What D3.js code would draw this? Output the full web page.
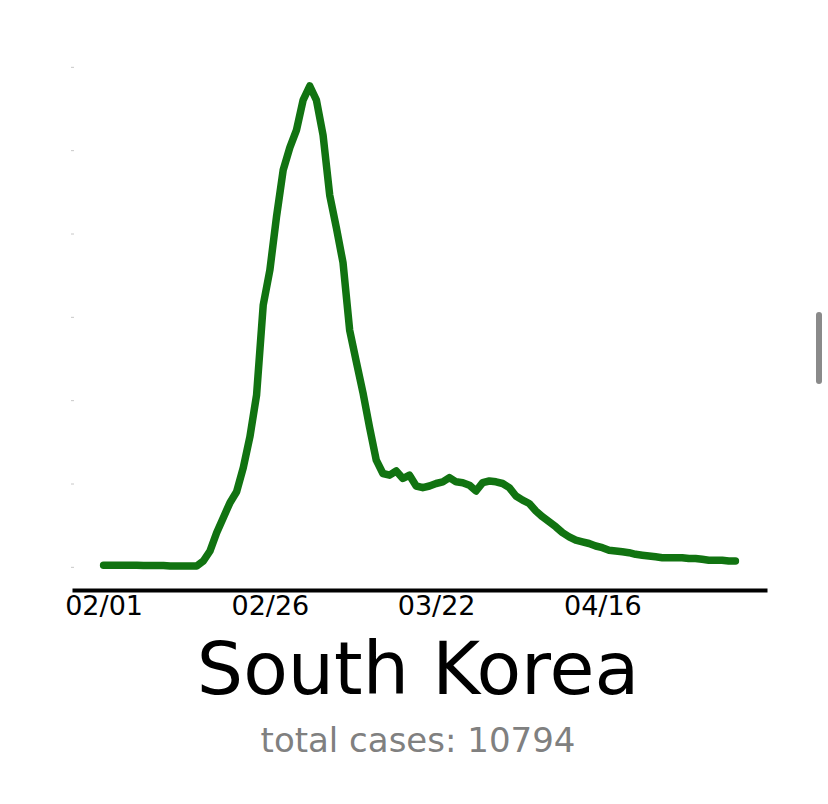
<!DOCTYPE html>
<html>
<head>
<meta charset="utf-8">
<script src="https://cdn.jsdelivr.net/npm/d3@7"></script>
<style>
  body { margin: 0; background: #fff; }
  svg { display: block; }
  text { font-family: "DejaVu Sans", sans-serif; }
</style>
</head>
<body>
<div class="chart"></div>
<script>
// daily new cases (smoothed), South Korea, 02/01 .. 05/06
var startDate = new Date(2020, 1, 1),
    cases = [2, 2, 2, 2, 2, 2, 1.5, 1.5, 1.5, 1.5, 1, 1, 1, 1, 1,
             7, 19, 41, 59, 77, 90, 119, 156, 206, 314, 356, 420, 476, 503, 524,
             560, 577, 560, 518, 446, 407, 365, 284, 246, 209, 167, 128, 112, 110, 115,
             106, 110, 97, 95, 97, 100, 102, 107, 102, 101, 98, 91, 101, 103, 102,
             100, 95, 85, 80, 76, 67, 60, 54, 48, 41, 36, 32, 30, 28, 25,
             23, 20, 19, 18, 17, 15, 14, 13, 12, 11, 11, 11, 11, 10, 10,
             9, 8, 8, 8, 7, 7],
    xTickDays = [0, 25, 50, 75],
    yTickValues = [0, 100, 200, 300, 400, 500, 600],
    country = "South Korea",
    totalCases = 10794;

var outerWidth = 828,
    outerHeight = 804,
    fmt = d3.timeFormat("%m/%d");

var data = cases.map(function(v, i) {
    return {day: i, date: d3.timeDay.offset(startDate, i), value: v};
});

// matplotlib style 5% margins
var dayExt = d3.extent(data, function(d) { return d.day; }),
    valExt = d3.extent(data, function(d) { return d.value; }),
    dPad = (dayExt[1] - dayExt[0]) * 0.05,
    vPad = (valExt[1] - valExt[0]) * 0.05;

var xScale = d3.scaleLinear().domain([dayExt[0] - dPad, dayExt[1] + dPad]).range([72, 767]),
    yScale = d3.scaleLinear().domain([valExt[0] - vPad, valExt[1] + vPad]).range([590, 62]);

var svg = d3.select(".chart").append("svg")
    .attr("width", outerWidth)
    .attr("height", outerHeight);

// faint y ticks, no labels
var yAxis = svg.append("g")
    .attr("transform", "translate(74,0)")
    .call(d3.axisLeft(yScale).tickValues(yTickValues).tickSize(3).tickFormat(""));
yAxis.select(".domain").remove();
yAxis.selectAll("line").attr("stroke", "#c8c8c8").attr("stroke-width", 1);

// x axis
var xAxis = svg.append("g")
    .attr("transform", "translate(0,590)")
    .call(d3.axisBottom(xScale)
        .tickValues(xTickDays)
        .tickSize(0)
        .tickPadding(6)
        .tickFormat(function(d) { return fmt(d3.timeDay.offset(startDate, d)); }));
xAxis.select(".domain").attr("stroke", "#000").attr("stroke-width", 4);
xAxis.selectAll("text")
    .attr("fill", "#000")
    .style("font-size", "27px")
    .style("font-family", "DejaVu Sans");

var line = d3.line()
    .x(function(d) { return xScale(d.day); })
    .y(function(d) { return yScale(d.value); });

svg.append("path")
    .datum(data)
    .attr("fill", "none")
    .attr("stroke", "#117311")
    .attr("stroke-width", 7.5)
    .attr("stroke-linejoin", "round")
    .attr("stroke-linecap", "round")
    .attr("d", line);

svg.append("text")
    .attr("x", 418)
    .attr("y", 694)
    .attr("text-anchor", "middle")
    .style("font-size", "73px")
    .attr("fill", "#000")
    .text(country);

svg.append("text")
    .attr("x", 418)
    .attr("y", 752)
    .attr("text-anchor", "middle")
    .style("font-size", "34px")
    .attr("fill", "#808080")
    .text("total cases: " + totalCases);

// scroll indicator seen at the right edge of the screenshot
svg.append("rect")
    .attr("x", 816)
    .attr("y", 312)
    .attr("width", 6)
    .attr("height", 72)
    .attr("rx", 3)
    .attr("fill", "#8a8a8a");
</script>
</body>
</html>
